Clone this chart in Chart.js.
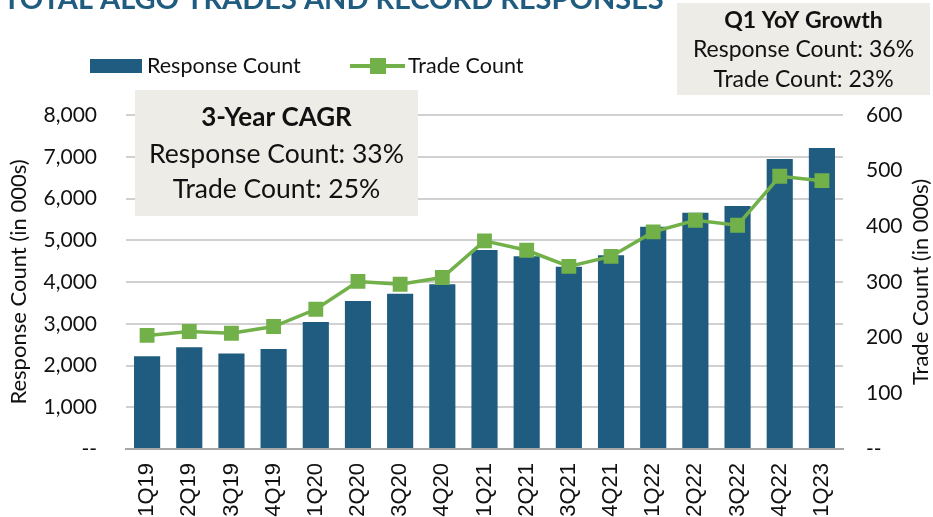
<!DOCTYPE html>
<html>
<head>
<meta charset="utf-8">
<script src="https://cdn.jsdelivr.net/npm/chart.js@4.4.0/dist/chart.umd.min.js"></script>
<style>
  html, body { margin: 0; padding: 0; background: #fff; overflow: hidden; }
  canvas { display: block; }
</style>
</head>
<body>
<canvas id="chart" width="933" height="517"></canvas>
<script>
const quarters = ['1Q19', '2Q19', '3Q19', '4Q19', '1Q20', '2Q20', '3Q20', '4Q20', '1Q21',
  '2Q21', '3Q21', '4Q21', '1Q22', '2Q22', '3Q22', '4Q22', '1Q23'];
const responseCount = [2220, 2435, 2290, 2395, 3040, 3545, 3720, 3945, 4765,
  4615, 4365, 4640, 5325, 5660, 5820, 6945, 7210];
const tradeCount = [204, 211, 208, 220, 251, 301, 296, 308, 374,
  357, 328, 346, 390, 411, 402, 490, 482];
const leftTicks = [0, 1000, 2000, 3000, 4000, 5000, 6000, 7000, 8000];
const rightTicks = [0, 100, 200, 300, 400, 500, 600];

const navy = '#1f5c80';
const green = '#72b14a';
const boxFill = '#eeece7';
const calibri = 'Lato';

const fmt = (v) => v === 0 ? '--' : v.toLocaleString('en-US');

function drawBox(ctx, x, y, w, h, lines) {
  ctx.save();
  ctx.fillStyle = boxFill;
  ctx.fillRect(x, y, w, h);
  ctx.fillStyle = '#111';
  ctx.textAlign = 'center';
  ctx.textBaseline = 'middle';
  lines.forEach((l) => {
    ctx.font = l.font;
    ctx.fillText(l.text, x + w / 2, l.y);
  });
  ctx.restore();
}

// title, legend, note boxes and right axis title
const decor = {
  id: 'decor',
  afterDraw(chart) {
    const ctx = chart.ctx;
    ctx.save();
    ctx.fillStyle = navy;
    ctx.font = 'bold 29px ' + calibri;
    ctx.textBaseline = 'alphabetic';
    ctx.fillText('TOTAL ALGO TRADES AND RECORD RESPONSES', 3, 9);

    // legend
    ctx.fillStyle = navy;
    ctx.fillRect(90, 59, 52, 14);
    ctx.strokeStyle = green;
    ctx.lineWidth = 4;
    ctx.beginPath();
    ctx.moveTo(350, 66);
    ctx.lineTo(405, 66);
    ctx.stroke();
    ctx.fillStyle = green;
    ctx.fillRect(370, 58, 16, 16);
    ctx.fillStyle = '#111';
    ctx.font = '21.5px ' + calibri;
    ctx.textBaseline = 'middle';
    ctx.fillText('Response Count', 147, 66);
    ctx.fillText('Trade Count', 408, 66);

    // right axis title, reads bottom to top
    ctx.font = '22px ' + calibri;
    ctx.translate(921, 282);
    ctx.rotate(-Math.PI / 2);
    ctx.textAlign = 'center';
    ctx.fillText('Trade Count (in 000s)', 0, 0);
    ctx.restore();

    drawBox(ctx, 135, 90, 283, 126, [
      { text: '3-Year CAGR', font: 'bold 26px ' + calibri, y: 118 },
      { text: 'Response Count: 33%', font: '26.5px ' + calibri, y: 154 },
      { text: 'Trade Count: 25%', font: '26.5px ' + calibri, y: 189 },
    ]);
    drawBox(ctx, 677, 3, 253, 92, [
      { text: 'Q1 YoY Growth', font: 'bold 23px ' + calibri, y: 21 },
      { text: 'Response Count: 36%', font: '23px ' + calibri, y: 50 },
      { text: 'Trade Count: 23%', font: '23px ' + calibri, y: 80 },
    ]);
  }
};

new Chart(document.getElementById('chart'), {
  data: {
    labels: quarters,
    datasets: [
      {
        type: 'line',
        label: 'Trade Count',
        data: tradeCount,
        yAxisID: 'y2',
        borderColor: green,
        backgroundColor: green,
        borderWidth: 3.5,
        tension: 0,
        pointStyle: 'rect',
        pointRadius: 10.5,
        pointBorderWidth: 0,
        pointBackgroundColor: green,
        order: 0,
      },
      {
        type: 'bar',
        label: 'Response Count',
        data: responseCount,
        yAxisID: 'y',
        backgroundColor: navy,
        categoryPercentage: 1,
        barPercentage: 0.62,
        order: 1,
      },
    ],
  },
  options: {
    responsive: false,
    animation: false,
    devicePixelRatio: 1,
    layout: { padding: { top: 115, left: 0, right: 0, bottom: 0 } },
    plugins: { legend: { display: false }, title: { display: false }, tooltip: { enabled: false } },
    scales: {
      x: {
        offset: true,
        grid: { display: false, drawTicks: false },
        border: { color: '#a6a6a6', width: 2 },
        ticks: {
          autoSkip: false,
          minRotation: 90,
          maxRotation: 90,
          padding: 14,
          color: '#111',
          font: { family: 'Liberation Sans', size: 22 },
        },
        afterFit(scale) { scale.height = 68; },
      },
      y: {
        position: 'left',
        min: 0,
        max: 8000,
        afterBuildTicks(scale) { scale.ticks = leftTicks.map((v) => ({ value: v })); },
        grid: { color: '#d0d0d0', lineWidth: 2, drawTicks: false },
        border: { display: false },
        ticks: {
          padding: 29,
          color: '#111',
          font: { family: calibri, size: 21 },
          callback: fmt,
        },
        title: {
          display: true,
          text: 'Response Count (in 000s)',
          color: '#111',
          font: { family: calibri, size: 22 },
          padding: { top: 6, bottom: 0 },
        },
        afterFit(scale) { scale.width = 126; },
      },
      y2: {
        position: 'right',
        min: 0,
        max: 600,
        afterBuildTicks(scale) { scale.ticks = rightTicks.map((v) => ({ value: v })); },
        grid: { display: false, drawTicks: false },
        border: { display: false },
        ticks: {
          padding: 23,
          color: '#111',
          font: { family: calibri, size: 21 },
          callback: fmt,
        },
        afterFit(scale) { scale.width = 90; },
      },
    },
  },
  plugins: [decor],
});
</script>
</body>
</html>
